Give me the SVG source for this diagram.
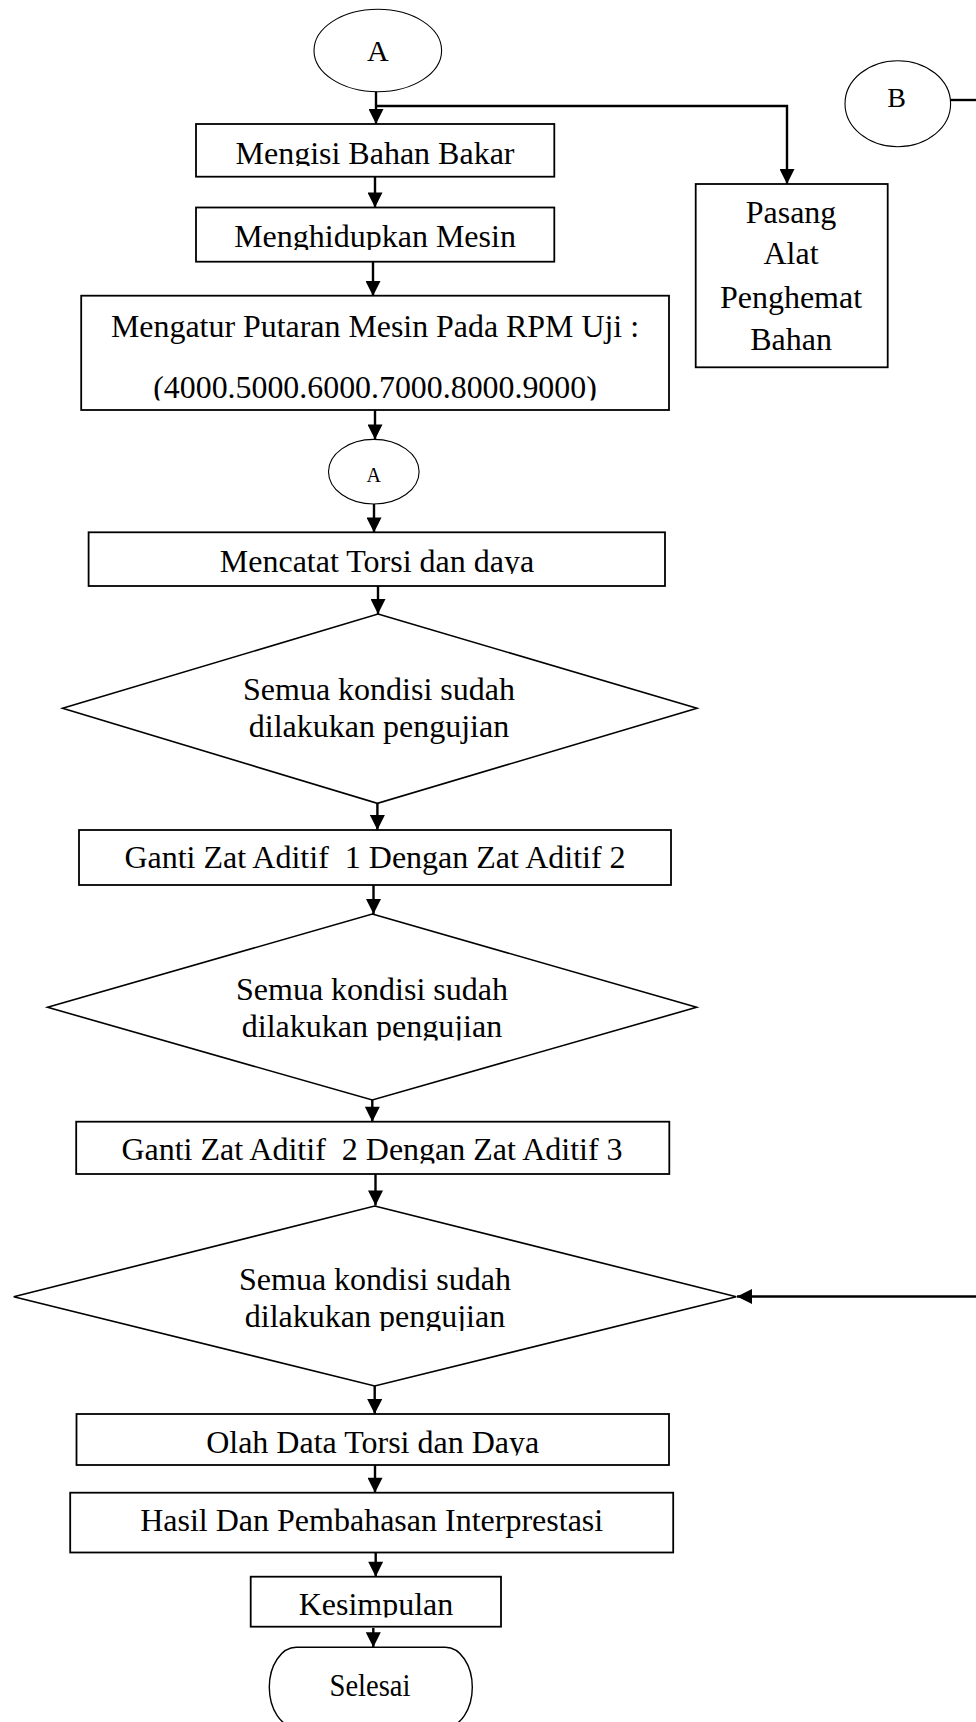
<svg xmlns="http://www.w3.org/2000/svg" width="976" height="1722" viewBox="0 0 976 1722">
  <style>
    .box { fill: #fff; stroke: #000; stroke-width: 1.8; }
    .dec { fill: #fff; stroke: #000; stroke-width: 1.6; }
    .con { fill: #fff; stroke: #000; stroke-width: 1.1; }
    .lbl { font-family: "Liberation Serif", "Times New Roman", serif; font-size: 32px; fill: #000; text-anchor: middle; white-space: pre; }
    .sm { font-size: 20px; }
    .link { fill: none; stroke: #000; stroke-width: 2.4; }
  </style>
  <defs>
    <marker id="arrow" viewBox="0 0 16 16" refX="16" refY="8" markerWidth="16" markerHeight="15" markerUnits="userSpaceOnUse" orient="auto">
      <path d="M0,0 L16,8 L0,16 z" fill="#000"/>
    </marker>
    <!-- text boxes cut their labels at the inner bottom edge -->
    <clipPath id="c-isi"><rect x="0" y="120" width="976" height="46"/></clipPath>
    <clipPath id="c-hidup"><rect x="0" y="205" width="976" height="45"/></clipPath>
    <clipPath id="c-atur"><rect x="0" y="290" width="976" height="110.5"/></clipPath>
    <clipPath id="c-catat"><rect x="0" y="530" width="976" height="44"/></clipPath>
    <clipPath id="c-d2"><rect x="0" y="900" width="976" height="140.5"/></clipPath>
    <clipPath id="c-ganti2"><rect x="0" y="1118" width="976" height="45.5"/></clipPath>
    <clipPath id="c-d3"><rect x="0" y="1200" width="976" height="131"/></clipPath>
    <clipPath id="c-olah"><rect x="0" y="1410" width="976" height="45.5"/></clipPath>
    <clipPath id="c-simpul"><rect x="0" y="1570" width="976" height="47.5"/></clipPath>
  </defs>

  <!-- connectors -->
  <g id="connectors">
    <line class="link" x1="376" y1="91.7" x2="376" y2="124" marker-end="url(#arrow)"/>
    <polyline class="link" points="377,106 787,106 787,184" marker-end="url(#arrow)"/>
    <line class="link" x1="950.5" y1="100" x2="976" y2="100"/>
    <line class="link" x1="375" y1="177" x2="375" y2="207.5" marker-end="url(#arrow)"/>
    <line class="link" x1="373" y1="256" x2="373" y2="296" marker-end="url(#arrow)"/>
    <line class="link" x1="375" y1="410" x2="375" y2="439.5" marker-end="url(#arrow)"/>
    <line class="link" x1="374" y1="500" x2="374" y2="532.5" marker-end="url(#arrow)"/>
    <line class="link" x1="378" y1="586" x2="378" y2="614" marker-end="url(#arrow)"/>
    <line class="link" x1="377.4" y1="803" x2="377.4" y2="830" marker-end="url(#arrow)"/>
    <line class="link" x1="373.5" y1="885" x2="373.5" y2="914" marker-end="url(#arrow)"/>
    <line class="link" x1="372.3" y1="1095" x2="372.3" y2="1121.7" marker-end="url(#arrow)"/>
    <line class="link" x1="375.5" y1="1170" x2="375.5" y2="1205.5" marker-end="url(#arrow)"/>
    <line class="link" x1="976" y1="1296.5" x2="737" y2="1296.5" marker-end="url(#arrow)"/>
    <line class="link" x1="374.7" y1="1386" x2="374.7" y2="1414" marker-end="url(#arrow)"/>
    <line class="link" x1="375" y1="1465" x2="375" y2="1492.7" marker-end="url(#arrow)"/>
    <line class="link" x1="375.7" y1="1550.7" x2="375.7" y2="1576.7" marker-end="url(#arrow)"/>
    <line class="link" x1="373.3" y1="1628" x2="373.3" y2="1647.3" marker-end="url(#arrow)"/>
  </g>

  <!-- connector A (start) -->
  <g id="start-a">
    <ellipse class="con" cx="377.8" cy="50.5" rx="63.8" ry="41.2"/>
    <text class="lbl" x="377.8" y="61" style="font-size:30px">A</text>
  </g>

  <!-- connector B -->
  <g id="start-b">
    <ellipse class="con" cx="897.8" cy="103.7" rx="52.8" ry="43"/>
    <text class="lbl" x="896.7" y="106.7" style="font-size:28px">B</text>
  </g>

  <g id="isi-bahan-bakar">
    <rect class="box" x="196" y="124" width="358.3" height="52.7"/>
    <text class="lbl" x="375" y="163.5" clip-path="url(#c-isi)">Mengisi Bahan Bakar</text>
  </g>

  <g id="hidupkan-mesin">
    <rect class="box" x="196" y="207.5" width="358.3" height="54.2"/>
    <text class="lbl" x="375" y="246.7" clip-path="url(#c-hidup)">Menghidupkan Mesin</text>
  </g>

  <g id="pasang-alat">
    <rect class="box" x="695.7" y="184" width="192" height="183.3"/>
    <text class="lbl" x="791" y="223.3">Pasang</text>
    <text class="lbl" x="791" y="264">Alat</text>
    <text class="lbl" x="791" y="308.3">Penghemat</text>
    <text class="lbl" x="791" y="350">Bahan</text>
  </g>

  <g id="atur-putaran">
    <rect class="box" x="81.2" y="295.7" width="587.8" height="114.3"/>
    <text class="lbl" x="375" y="336.7" textLength="528" lengthAdjust="spacingAndGlyphs">Mengatur Putaran Mesin Pada RPM Uji :</text>
    <text class="lbl" x="375" y="398.3" clip-path="url(#c-atur)" textLength="443.5" lengthAdjust="spacingAndGlyphs">(4000.5000.6000.7000.8000.9000)</text>
  </g>

  <g id="connector-a">
    <ellipse class="con" cx="373.8" cy="471.7" rx="45.3" ry="32.3"/>
    <text class="lbl sm" x="373.8" y="481.7">A</text>
  </g>

  <g id="catat-torsi">
    <rect class="box" x="88.6" y="532.3" width="576.4" height="53.7"/>
    <text class="lbl" x="377" y="571.7" clip-path="url(#c-catat)">Mencatat Torsi dan daya</text>
  </g>

  <g id="cek-kondisi-1">
    <polygon class="dec" points="378,614 697,708.3 377.4,803.3 62.6,708.3"/>
    <text class="lbl" x="379" y="700">Semua kondisi sudah</text>
    <text class="lbl" x="379" y="737.3">dilakukan pengujian</text>
  </g>

  <g id="ganti-aditif-1">
    <rect class="box" x="79" y="830" width="592" height="55"/>
    <text class="lbl" x="375" y="868.3">Ganti Zat Aditif  1 Dengan Zat Aditif 2</text>
  </g>

  <g id="cek-kondisi-2">
    <polygon class="dec" points="372.3,914 696.6,1007.3 372.3,1100 47.6,1007.3"/>
    <text class="lbl" x="372" y="1000">Semua kondisi sudah</text>
    <text class="lbl" x="372" y="1036.7" clip-path="url(#c-d2)">dilakukan pengujian</text>
  </g>

  <g id="ganti-aditif-2">
    <rect class="box" x="76.2" y="1121.7" width="593.1" height="52.3"/>
    <text class="lbl" x="372" y="1160" clip-path="url(#c-ganti2)">Ganti Zat Aditif  2 Dengan Zat Aditif 3</text>
  </g>

  <g id="cek-kondisi-3">
    <polygon class="dec" points="374.7,1206 736.3,1296.7 374.7,1386 13.7,1296.7"/>
    <text class="lbl" x="375" y="1290">Semua kondisi sudah</text>
    <text class="lbl" x="375" y="1326.7" clip-path="url(#c-d3)">dilakukan pengujian</text>
  </g>

  <g id="olah-data">
    <rect class="box" x="76.5" y="1414" width="592.5" height="51"/>
    <text class="lbl" x="372.7" y="1453.3" clip-path="url(#c-olah)">Olah Data Torsi dan Daya</text>
  </g>

  <g id="hasil-pembahasan">
    <rect class="box" x="70.2" y="1492.7" width="603" height="59.8"/>
    <text class="lbl" x="371.7" y="1530.7">Hasil Dan Pembahasan Interprestasi</text>
  </g>

  <g id="kesimpulan">
    <rect class="box" x="250.7" y="1576.7" width="250.3" height="50"/>
    <text class="lbl" x="376" y="1615" clip-path="url(#c-simpul)">Kesimpulan</text>
  </g>

  <g id="selesai">
    <rect class="con" style="stroke-width:1.4" x="269.3" y="1647.3" width="203" height="80" rx="27" ry="40"/>
    <text class="lbl" x="370" y="1696" textLength="81" lengthAdjust="spacingAndGlyphs">Selesai</text>
  </g>
</svg>
